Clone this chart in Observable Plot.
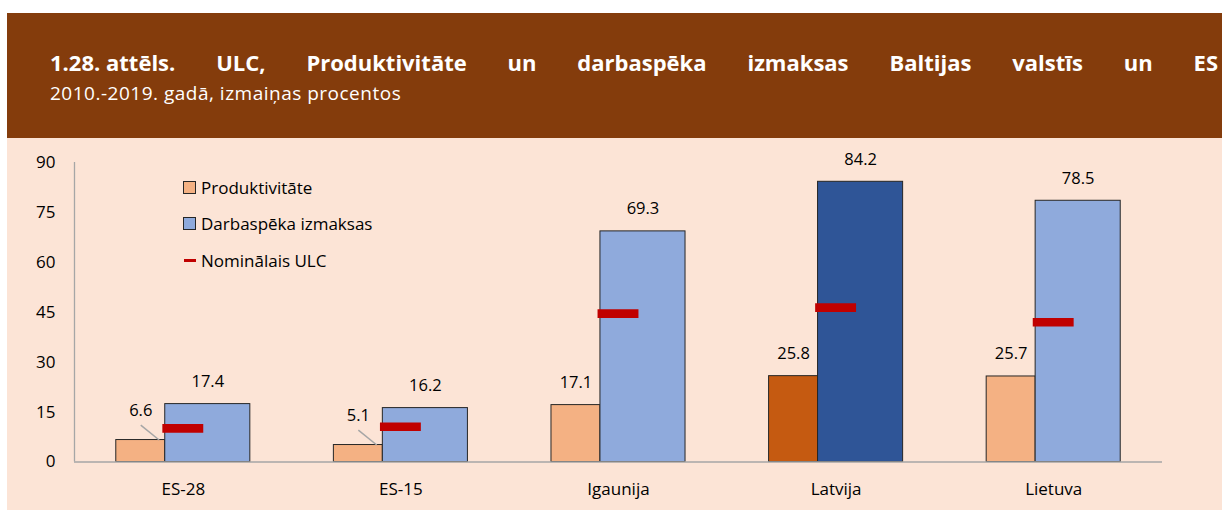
<!DOCTYPE html>
<html>
<head>
<meta charset="utf-8">
<script src="https://cdn.jsdelivr.net/npm/d3@7"></script>
<script src="https://cdn.jsdelivr.net/npm/@observablehq/plot@0.6"></script>
<style>
  html, body { margin: 0; padding: 0; background: #ffffff; }
  body { width: 1222px; height: 510px; position: relative; overflow: hidden; font-family: "Open Sans", "Noto Sans", sans-serif; }
  #header { position: absolute; left: 7px; top: 13px; width: 1215px; height: 125px; background: #843C0C; color: #ffffff; }
  #title { position: absolute; left: 43px; top: 35.5px; width: 1168px; font-size: 22px; font-weight: 700; line-height: 26px; text-align: justify; text-align-last: justify; }
  #title .lead { display: inline-block; white-space: nowrap; }
  #subtitle { position: absolute; left: 43px; top: 69px; font-size: 19px; letter-spacing: 0.5px; line-height: 22px; white-space: nowrap; }
  #chart { position: absolute; left: 7px; top: 138px; width: 1215px; height: 372px; background: #FCE4D6; }
  #legend { position: absolute; left: 176px; top: 31px; font-size: 17px; color: #000; }
  .item { position: relative; height: 36.5px; display: flex; align-items: center; }
  .sw { width: 11px; height: 11px; border: 1px solid #262626; margin-right: 5px; box-sizing: content-box; }
  .dash { width: 12px; height: 3.5px; background: #C00000; margin-right: 5px; margin-left: 1px; }
</style>
</head>
<body>
<div id="header">
  <div id="title"></div>
  <div id="subtitle"></div>
</div>
<div id="chart">
  <div id="plot"></div>
  <div id="legend"></div>
</div>
<script>
const titleLead = "1.28. attēls.";
const titleText = "ULC, Produktivitāte un darbaspēka izmaksas Baltijas valstīs un ES";
const subtitleText = "2010.-2019. gadā, izmaiņas procentos";
const categories = ["ES-28", "ES-15", "Igaunija", "Latvija", "Lietuva"];
const productivity = [6.6, 5.1, 17.1, 25.8, 25.7];
const laborCosts = [17.4, 16.2, 69.3, 84.2, 78.5];
const nominalULC = [10.1, 10.6, 44.6, 46.4, 42.0];
const yTicks = [0, 15, 30, 45, 60, 75, 90];
const seriesNames = ["Produktivitāte", "Darbaspēka izmaksas", "Nominālais ULC"];
const highlighted = "Latvija";

const colors = {
  prod: "#F4B183", prodHi: "#C55A11",
  labor: "#8FAADC", laborHi: "#2F5597",
  ulc: "#C00000", axis: "#A6A6A6", edge: "#262626"
};

const titleEl = document.getElementById("title");
const lead = document.createElement("span");
lead.className = "lead";
lead.textContent = titleLead;
titleEl.appendChild(lead);
titleEl.appendChild(document.createTextNode(" " + titleText));
document.getElementById("subtitle").textContent = subtitleText;

const rows = categories.map((cat, i) => ({
  i, cat, prod: productivity[i], labor: laborCosts[i], ulc: nominalULC[i]
}));

// layout offsets in category units (band = 1)
const prodL = -0.308, mid = -0.083, laborR = 0.308, ulcHalf = 0.094;
const prodC = (prodL + mid) / 2;

const small = rows.filter(d => d.prod < 10);
const big = rows.filter(d => d.prod >= 10);

const chart = Plot.plot({
  width: 1215,
  height: 372,
  marginLeft: 67,
  marginRight: 60,
  marginTop: 24,
  marginBottom: 48.5,
  style: { background: "transparent", fontFamily: "'Open Sans', 'Noto Sans', sans-serif", fontSize: "16px", color: "#000" },
  x: { domain: [-0.5, categories.length - 0.5], axis: null },
  y: { domain: [0, 90], axis: null },
  marks: [
    Plot.axisY({ ticks: yTicks, tickSize: 0, tickPadding: 19, fontSize: 17, tickFormat: d => d, label: null }),
    Plot.axisX({ ticks: categories.map((_, i) => i), tickFormat: i => categories[i], tickSize: 0, tickPadding: 21, fontSize: 17, label: null }),
    Plot.rectY(rows, {
      x1: d => d.i + prodL, x2: d => d.i + mid, y1: 0, y2: "prod",
      fill: d => d.cat === highlighted ? colors.prodHi : colors.prod,
      stroke: colors.edge, strokeWidth: 1
    }),
    Plot.rectY(rows, {
      x1: d => d.i + mid, x2: d => d.i + laborR, y1: 0, y2: "labor",
      fill: d => d.cat === highlighted ? colors.laborHi : colors.labor,
      stroke: colors.edge, strokeWidth: 1
    }),
    Plot.ruleX([-0.5], { y1: 0, y2: 90, stroke: colors.axis, strokeWidth: 1.3 }),
    Plot.ruleY([0], { stroke: colors.axis, strokeWidth: 1.5 }),
    Plot.ruleY(rows, {
      y: "ulc", x1: d => d.i - ulcHalf, x2: d => d.i + ulcHalf,
      stroke: colors.ulc, strokeWidth: 8.7
    }),
    // leader lines for small labels
    Plot.link(small, {
      x1: d => d.i + prodC, y1: d => d.prod + 4.5,
      x2: d => d.i + mid - 0.028, y2: "prod",
      stroke: "#A6A6A6", strokeWidth: 1.5
    }),
    Plot.text(small, {
      x: d => d.i + prodC, y: "prod", text: d => d.prod.toFixed(1),
      dy: -29.5, lineAnchor: "middle", fill: "#000", fontSize: 16.5
    }),
    Plot.text(big, {
      x: d => d.i + prodC, y: "prod", text: d => d.prod.toFixed(1),
      dy: -22.5, lineAnchor: "middle", fill: "#000", fontSize: 16.5
    }),
    Plot.text(rows, {
      x: d => d.i + (mid + laborR) / 2, y: "labor", text: d => d.labor.toFixed(1),
      dy: -22.5, lineAnchor: "middle", fill: "#000", fontSize: 16.5
    })
  ]
});
document.getElementById("plot").appendChild(chart);

// legend
const legend = document.getElementById("legend");
const legendKinds = [
  { type: "sw", color: colors.prod },
  { type: "sw", color: colors.labor },
  { type: "dash", color: colors.ulc }
];
seriesNames.forEach((name, k) => {
  const item = document.createElement("div");
  item.className = "item";
  const mark = document.createElement("div");
  mark.className = legendKinds[k].type;
  mark.style.background = legendKinds[k].color;
  const label = document.createElement("span");
  label.textContent = name;
  item.appendChild(mark);
  item.appendChild(label);
  legend.appendChild(item);
});
</script>
</body>
</html>
